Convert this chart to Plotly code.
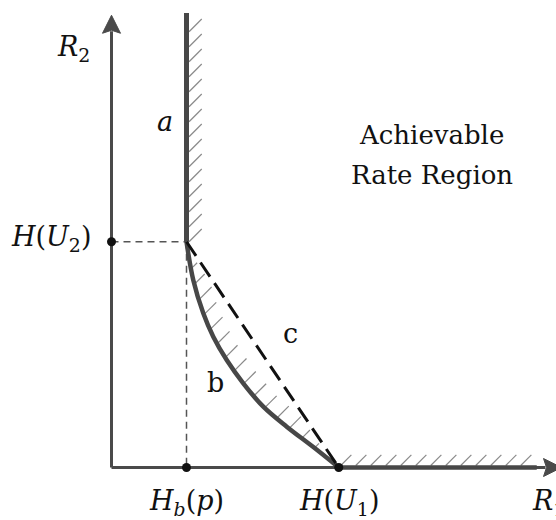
import numpy as np
import plotly.graph_objects as go

# ---- quantities on the rate plane (arbitrary entropy units) ----
H_b_p = 1.0          # H_b(p), start of the time-sharing range on R1
H_U1 = 3.03          # H(U1)
H_U2 = 3.01          # H(U2)
R1_axis_end = 6.0
R2_axis_end = 6.03
line_a_top = 6.06
floor_end = 5.67     # end of the hatched boundary along the R1 axis

# boundary curve b (convex corner between the two rate limits)
curve_b_x = [1.0, 1.09, 1.224, 1.357, 1.536, 1.757, 2.024, 2.336, 2.691, 3.03]
curve_b_y = [3.01, 2.50, 2.056, 1.744, 1.433, 1.123, 0.811, 0.544, 0.272, 0.0]

# text labels
axis_labels = ["<i>R</i><sub>2</sub>", "<i>R</i><sub>1</sub>"]
tick_labels = ["<i>H</i>(<i>U</i><sub>2</sub>)", "<i>H<sub>b</sub></i>(<i>p</i>)",
               "<i>H</i>(<i>U</i><sub>1</sub>)"]
curve_labels = ["<i>a</i>", "b", "c"]
region_lines = ["Achievable", "Rate Region"]

# ---- drawing scale ----
W, H = 556, 520
PX = 75.0                      # pixels per unit on both axes
X0_PX, Y0_PX = 111.5, 467.5    # pixel position of the origin
x_range = [-X0_PX / PX, (W - X0_PX) / PX]
y_range = [-(H - Y0_PX) / PX, Y0_PX / PX]

AXIS_COL = "#4a4a4a"
HATCH_COL = "#8a8a8a"
SERIF = "DejaVu Serif"


def u(px):
    return px / PX


def walk(xs, ys, step, offset=0.0):
    """Points spaced by `step` along a polyline."""
    xs, ys = np.asarray(xs, float), np.asarray(ys, float)
    seg = np.hypot(np.diff(xs), np.diff(ys))
    cum = np.concatenate([[0], np.cumsum(seg)])
    s = np.arange(offset, cum[-1] + 1e-9, step)
    return np.interp(s, cum, xs), np.interp(s, cum, ys)


def hatch(px_, py_, length, tmax=None):
    hx, hy = [], []
    for i, (x, y) in enumerate(zip(px_, py_)):
        t = length / np.sqrt(2)
        if tmax is not None:
            t = min(t, tmax[i])
        if t <= 0:
            continue
        hx += [x, x + t, None]
        hy += [y, y + t, None]
    return hx, hy


fig = go.Figure()


def add_line(x, y, color, width, dash="solid", shape="linear"):
    fig.add_trace(go.Scatter(x=x, y=y, mode="lines", hoverinfo="skip",
                             line=dict(color=color, width=width, dash=dash, shape=shape),
                             showlegend=False))


# hatching along line a (to the right of it)
ya = np.arange(H_U2, line_a_top - u(13), u(15))
hx, hy = hatch(np.full(len(ya), H_b_p + u(2.5)), ya, u(18))
add_line(hx, hy, HATCH_COL, 1.2)

# hatching above the R1 boundary beyond H(U1)
xf = np.arange(H_U1 + u(2), floor_end - u(9), u(15))
hx, hy = hatch(xf, np.full(len(xf), u(2)), u(15))
add_line(hx, hy, HATCH_COL, 1.2)

# hatching between curve b and chord c
cx, cy = walk(curve_b_x, curve_b_y, u(16), offset=u(10))
k = 1 / (H_U1 - H_b_p) + 1 / H_U2
f = (cx - H_b_p) / (H_U1 - H_b_p) + cy / H_U2
tmax = (1 - f) / k - u(3)
keep = cy > u(4)
hx, hy = hatch(cx[keep] + u(1.5), cy[keep], u(16), tmax[keep])
add_line(hx, hy, HATCH_COL, 1.2)

# guide lines to H(U2) and H_b(p)
add_line([0, H_b_p], [H_U2, H_U2], "#555555", 1.5, dash="7px,5px")
add_line([H_b_p, H_b_p], [H_U2, 0], "#555555", 1.5, dash="7px,5px")

# axes with arrowheads
head_len, head_w, notch = u(18), u(9), u(3)
add_line([0, 0], [0, R2_axis_end - head_len + u(2)], AXIS_COL, 3)
add_line([0, R1_axis_end - head_len + u(2)], [0, 0], AXIS_COL, 3)
for tip, d in [((0, R2_axis_end), (0, 1)), ((R1_axis_end, 0), (1, 0))]:
    tx, ty = tip
    dx, dy = d
    nx, ny = -dy, dx
    bx, by = tx - dx * head_len, ty - dy * head_len
    px_ = [tx, bx + nx * head_w, bx + dx * notch, bx - nx * head_w, tx]
    py_ = [ty, by + ny * head_w, by + dy * notch, by - ny * head_w, ty]
    fig.add_trace(go.Scatter(x=px_, y=py_, mode="lines", fill="toself",
                             fillcolor=AXIS_COL, line=dict(color=AXIS_COL, width=1),
                             hoverinfo="skip", showlegend=False))

# boundary of the region: line a, curve b, floor along R1
add_line([H_b_p, H_b_p], [H_U2, line_a_top], "#474747", 5)
add_line([H_U1, floor_end], [0, 0], "#474747", 4.5)
add_line(curve_b_x, curve_b_y, "#474747", 4.5, shape="spline")

# chord c
add_line([H_b_p, H_U1], [H_U2, 0], "#111111", 3, dash="17px,8px")

# marked points
fig.add_trace(go.Scatter(x=[0, H_b_p, H_U1], y=[H_U2, 0, 0], mode="markers",
                         marker=dict(color="#111111", size=9), hoverinfo="skip",
                         showlegend=False))

FS = 27


def label(x, y, text, size=FS, xanchor="center"):
    fig.add_annotation(x=x, y=y, text=text, showarrow=False, xanchor=xanchor,
                       yanchor="middle", font=dict(family=SERIF, size=size, color="#111111"))


label(-0.513, 5.59, axis_labels[0])
label(5.58, -0.46, axis_labels[1], xanchor="left")
label(-0.81, 3.05, tick_labels[0])
label(H_b_p, -0.46, tick_labels[1])
label(H_U1, -0.46, tick_labels[2])
label(0.713, 4.62, curve_labels[0])
label(1.393, 1.14, curve_labels[1])
label(2.38, 1.79, curve_labels[2])
label(4.273, 4.43, region_lines[0], size=26)
label(4.273, 3.90, region_lines[1], size=26)

fig.update_layout(
    width=W, height=H, margin=dict(l=0, r=0, t=0, b=0),
    paper_bgcolor="white", plot_bgcolor="white",
    font=dict(family=SERIF),
    xaxis=dict(range=x_range, visible=False, fixedrange=True),
    yaxis=dict(range=y_range, visible=False, fixedrange=True),
)

fig.write_html("out.html")
